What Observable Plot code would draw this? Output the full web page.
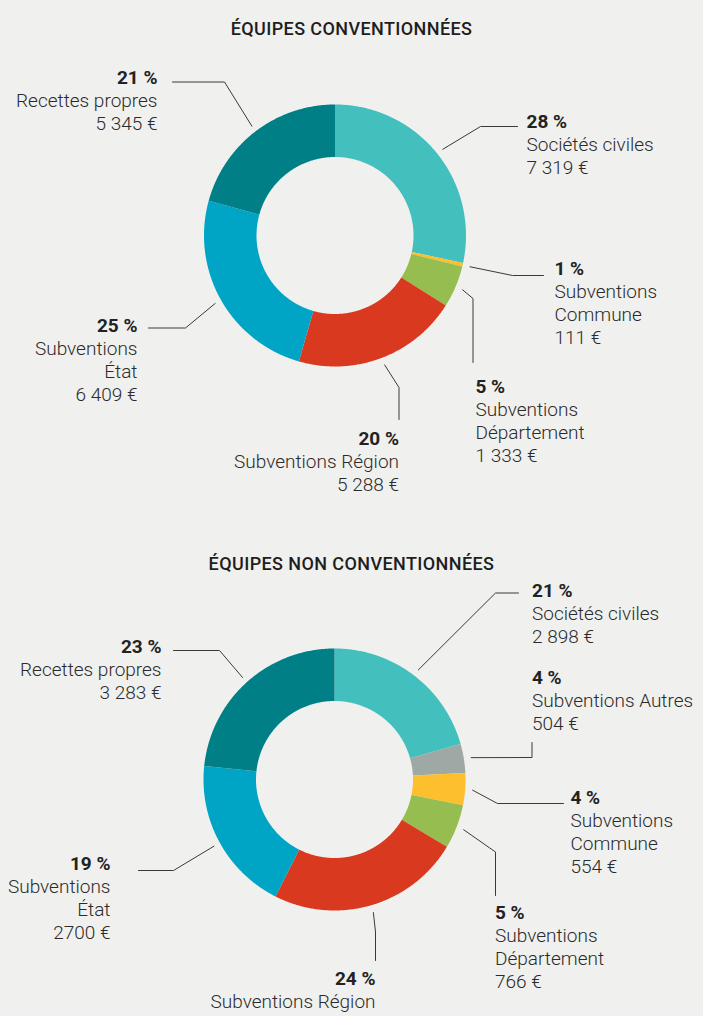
<!DOCTYPE html>
<html><head><meta charset="utf-8">
<script src="https://cdn.jsdelivr.net/npm/d3@7"></script>
<script src="https://cdn.jsdelivr.net/npm/@observablehq/plot@0.6"></script>
<style>
html,body{margin:0;padding:0;background:#f0f0ee;overflow:hidden;width:703px;height:1016px;}
.title{position:absolute;left:0;width:703px;text-align:center;font-family:Roboto,sans-serif;font-weight:500;font-size:18px;line-height:18px;color:#1e1e1e;letter-spacing:0.4px}
.chart{position:absolute;left:0}
.chart svg{overflow:visible}
</style></head><body>
<div class="title" style="top:20px">ÉQUIPES CONVENTIONNÉES</div>
<div id="c1" class="chart" style="top:50px"></div>
<div class="title" style="top:555px">ÉQUIPES NON CONVENTIONNÉES</div>
<div id="c2" class="chart" style="top:580px"></div>
<script>
// ---------- DATA ----------
const categories1 = ["Sociétés civiles", "Subventions Commune", "Subventions Département", "Subventions Région", "Subventions État", "Recettes propres"];
const values1 = [7319, 111, 1333, 5288, 6409, 5345];
const percents1 = [28, 1, 5, 20, 25, 21];
const nameLines1 = [["Sociétés civiles"], ["Subventions", "Commune"], ["Subventions", "Département"], ["Subventions Région"], ["Subventions", "État"], ["Recettes propres"]];
const valueLabels1 = ["7\u00A0319\u00A0€", "111\u00A0€", "1\u00A0333\u00A0€", "5\u00A0288\u00A0€", "6\u00A0409\u00A0€", "5\u00A0345\u00A0€"];

const categories2 = ["Sociétés civiles", "Subventions Autres", "Subventions Commune", "Subventions Département", "Subventions Région", "Subventions État", "Recettes propres"];
const values2 = [2898, 504, 554, 766, 3350, 2700, 3283];
const percents2 = [21, 4, 4, 5, 24, 19, 23];
const nameLines2 = [["Sociétés civiles"], ["Subventions Autres"], ["Subventions", "Commune"], ["Subventions", "Département"], ["Subventions Région"], ["Subventions", "État"], ["Recettes propres"]];
const valueLabels2 = ["2\u00A0898\u00A0€", "504\u00A0€", "554\u00A0€", "766\u00A0€", "3\u00A0350\u00A0€", "2700\u00A0€", "3\u00A0283\u00A0€"];

// ---------- STYLES ----------
const colorOf = {
  "Sociétés civiles": "#43c0bd",
  "Subventions Autres": "#9ea9a6",
  "Subventions Commune": "#fdbf2d",
  "Subventions Département": "#95bd4f",
  "Subventions Région": "#d9391e",
  "Subventions État": "#00a5c5",
  "Recettes propres": "#007f86"
};

// ---------- LAYOUT (page pixels) ----------
const layout1 = {
  top: 50, height: 466, cx: 335, cy: 235.5,
  labels: [
    {elbow: [480, 126], end: [517, 126], tx: 526, ty: 127, anchor: "start"},
    {elbow: [512, 275], end: [543, 275], tx: 554, ty: 274, anchor: "start"},
    {elbow: [472.5, 298], end: [472.5, 362], tx: 475, ty: 392, anchor: "start"},
    {elbow: [398.5, 387], end: [398.5, 419], tx: 398.5, ty: 444.5, anchor: "end"},
    {elbow: [185, 327.5], end: [148, 327.5], tx: 137, ty: 331, anchor: "end"},
    {elbow: [224, 81.5], end: [172, 81.5], tx: 157, ty: 83.5, anchor: "end"}
  ]
};
const layout2 = {
  top: 580, height: 436, cx: 334.5, cy: 779.5,
  labels: [
    {elbow: [495, 592.5], end: [518, 592.5], tx: 531.5, ty: 596.5, anchor: "start"},
    {elbow: [531.5, 757], end: [531.5, 742], tx: 531.5, ty: 683.5, anchor: "start"},
    {elbow: [497, 803], end: [563, 803], tx: 570, ty: 803.5, anchor: "start"},
    {elbow: [495, 851.5], end: [495, 895], tx: 494.5, ty: 918.5, anchor: "start"},
    {elbow: [375, 931.5], end: [375, 960], tx: 375, ty: 984.5, anchor: "end"},
    {elbow: [173, 870], end: [138, 870], tx: 110, ty: 869.5, anchor: "end"},
    {elbow: [219, 650], end: [173, 650], tx: 161, ty: 652.5, anchor: "end"}
  ]
};
const R_OUT = 131, R_IN = 78.5, LEADER_GAP = 7, LINE_STEP = 23;
const FONT = "Roboto, sans-serif";

function donut(categories, values, percents, nameLines, valueLabels, L) {
  const rows = categories.map((c, i) => ({cat: c, value: values[i], i}));
  const arcs = d3.pie().sort(null).value(d => d.value)(rows);
  const {cx, cy} = L;
  const arcPts = arcs.flatMap(a => {
    const n = Math.max(2, Math.ceil((a.endAngle - a.startAngle) / (Math.PI / 360)) + 1);
    return d3.range(n).map(k => {
      const t = a.startAngle + (a.endAngle - a.startAngle) * k / (n - 1);
      return {key: a.data.cat, color: colorOf[a.data.cat],
        xi: cx + Math.sin(t) * R_IN, yi: cy - Math.cos(t) * R_IN,
        xo: cx + Math.sin(t) * R_OUT, yo: cy - Math.cos(t) * R_OUT};
    });
  });
  const leaders = arcs.flatMap((a, i) => {
    const m = (a.startAngle + a.endAngle) / 2, r = R_OUT + LEADER_GAP, lb = L.labels[i];
    return [
      {k: i, x: cx + Math.sin(m) * r, y: cy - Math.cos(m) * r},
      {k: i, x: lb.elbow[0], y: lb.elbow[1]},
      {k: i, x: lb.end[0], y: lb.end[1]}
    ];
  });
  const texts = rows.flatMap((d, i) => {
    const lb = L.labels[i];
    const lines = [percents[i] + "\u00A0%", ...nameLines[i], valueLabels[i]];
    return lines.map((s, j) => ({text: s, x: lb.tx, y: lb.ty + j * LINE_STEP, bold: j === 0, anchor: lb.anchor}));
  });
  const textMark = (anchor, bold) => Plot.text(texts.filter(d => d.anchor === anchor && d.bold === bold), {
    x: "x", y: "y", text: "text", textAnchor: anchor, lineAnchor: "bottom",
    fontFamily: FONT, fontSize: 19, fontWeight: bold ? 700 : 300, fill: bold ? "#222" : "#2b2b2b"
  });
  return Plot.plot({
    width: 703, height: L.height, margin: 0,
    x: {type: "linear", domain: [0, 703], range: [0, 703], axis: null},
    y: {type: "linear", domain: [L.top, L.top + L.height], range: [0, L.height], axis: null},
    style: {background: "transparent", overflow: "visible"},
    marks: [
      Plot.area(arcPts, {x1: "xi", y1: "yi", x2: "xo", y2: "yo", z: "key", fill: "color", curve: "linear"}),
      Plot.line(leaders, {x: "x", y: "y", z: "k", stroke: "#3a3a3a", strokeWidth: 1, curve: "linear"}),
      textMark("start", true), textMark("start", false),
      textMark("end", true), textMark("end", false)
    ]
  });
}

document.getElementById("c1").append(donut(categories1, values1, percents1, nameLines1, valueLabels1, layout1));
document.getElementById("c2").append(donut(categories2, values2, percents2, nameLines2, valueLabels2, layout2));
</script>
</body></html>
